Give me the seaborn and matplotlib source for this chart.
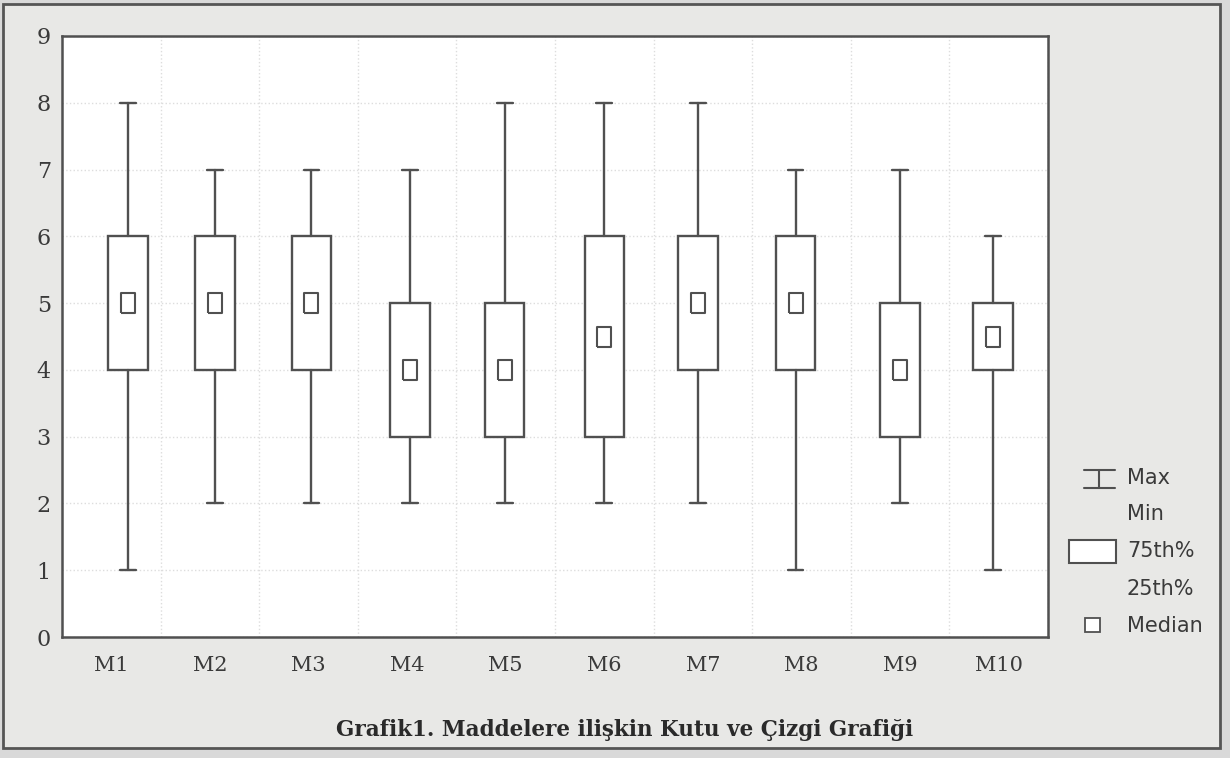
import numpy as np
import pandas as pd
import matplotlib
matplotlib.use("Agg")
import matplotlib.pyplot as plt
from matplotlib.patches import Rectangle
import seaborn as sns

# values
items = ["M1", "M2", "M3", "M4", "M5", "M6", "M7", "M8", "M9", "M10"]
mins = [1, 2, 2, 2, 2, 2, 2, 1, 2, 1]
q25 = [4, 4, 4, 3, 3, 3, 4, 4, 3, 4]
medians = [5, 5, 5, 4, 4, 4.5, 5, 5, 4, 4.5]
q75 = [6, 6, 6, 5, 5, 6, 6, 6, 5, 5]
maxs = [8, 7, 7, 7, 8, 8, 8, 7, 7, 6]
yticks = list(range(10))

paper = "#e8e8e6"
ink = "#505050"

sns.set_theme(style="white")
plt.rcParams["font.family"] = ["DejaVu Serif", "DejaVu Sans"]

fig = plt.figure(figsize=(12.3, 7.58), dpi=100, facecolor="#d9d9d9")

# page frame of the scan
bg = fig.add_axes([0, 0, 1, 1], facecolor="none")
bg.set_xlim(0, 1230)
bg.set_ylim(758, 0)
bg.axis("off")
bg.add_patch(Rectangle((3, 4), 1217, 744, facecolor=paper, edgecolor="#555555", lw=2))

ax = fig.add_axes([62 / 1230, 1 - 637 / 758, (1048 - 62) / 1230, (637 - 36) / 758])
ax.set_facecolor("white")

stats = []
for i, name in enumerate(items):
    stats.append(dict(label=name, whislo=mins[i], q1=q25[i], med=medians[i],
                      q3=q75[i], whishi=maxs[i], fliers=[]))

# box placement as printed (slightly uneven in the scan)
pos = np.array([0.17, 1.05, 2.03, 3.03, 3.99, 5.0, 5.95, 6.94, 8.0, 8.94])
ax.bxp(stats, positions=pos, widths=0.4, patch_artist=True, manage_ticks=False,
       boxprops=dict(facecolor="white", edgecolor=ink, linewidth=1.7),
       whiskerprops=dict(color=ink, linewidth=1.7),
       capprops=dict(color=ink, linewidth=1.7),
       medianprops=dict(linestyle="none"),
       capwidths=0.16, showfliers=False)

rect_marker = [(-0.35, -0.5), (0.35, -0.5), (0.35, 0.5), (-0.35, 0.5), (-0.35, -0.5)]
df = pd.DataFrame({"x": pos, "median": medians})
sns.scatterplot(data=df, x="x", y="median", ax=ax, marker=rect_marker, s=190,
                facecolor="white", edgecolor=ink, linewidth=1.5, zorder=5)

ax.set_xlim(-0.5, 9.5)
ax.set_ylim(0, 9)
ax.set_yticks(yticks)
ax.set_xticks(np.arange(len(items)) + 0.5, minor=False)
ax.set_xticklabels([])
ax.set_xticks(np.arange(len(items)), minor=True)
ax.set_xticklabels(items, minor=True)
ax.set_xlabel("")
ax.set_ylabel("")
ax.tick_params(axis="x", which="major", direction="in", length=5, color=ink, width=1.2)
ax.tick_params(axis="x", which="minor", length=0, pad=14, labelsize=15, labelcolor="#3a3a3a")
ax.tick_params(axis="y", direction="in", length=5, color=ink, width=1.2,
               labelsize=16, labelcolor="#3a3a3a", pad=8)
ax.grid(True, which="major", color="#dddddd", linestyle=":", linewidth=1.0)
for s in ax.spines.values():
    s.set_color(ink)
    s.set_linewidth(1.8)

# legend drawn beside the plot
lg = fig.add_axes([0, 0, 1, 1], facecolor="none")
lg.set_xlim(0, 1230)
lg.set_ylim(758, 0)
lg.axis("off")
lg.plot([1084, 1115], [470, 470], color=ink, lw=1.5)
lg.plot([1084, 1115], [488, 488], color=ink, lw=1.5)
lg.plot([1099, 1099], [470, 488], color=ink, lw=1.5)
lg.add_patch(Rectangle((1069, 540), 47, 23, facecolor="white", edgecolor=ink, lw=1.5))
lg.add_patch(Rectangle((1085, 618), 15, 14, facecolor="white", edgecolor=ink, lw=1.3))
for label, y in [("Max", 478), ("Min", 514), ("75th%", 551), ("25th%", 589), ("Median", 626)]:
    lg.text(1127, y, label, fontsize=15, color="#3a3a3a", va="center", ha="left",
            family=["DejaVu Sans"])

fig.text(0.508, 1 - 730 / 758, "Grafik1. Maddelere ilişkin Kutu ve Çizgi Grafiği",
         ha="center", va="center", fontsize=15.5, fontweight="bold", color="#2a2a2a",
         family=["DejaVu Serif"])

fig.savefig("out.png", dpi=100, facecolor=fig.get_facecolor())
